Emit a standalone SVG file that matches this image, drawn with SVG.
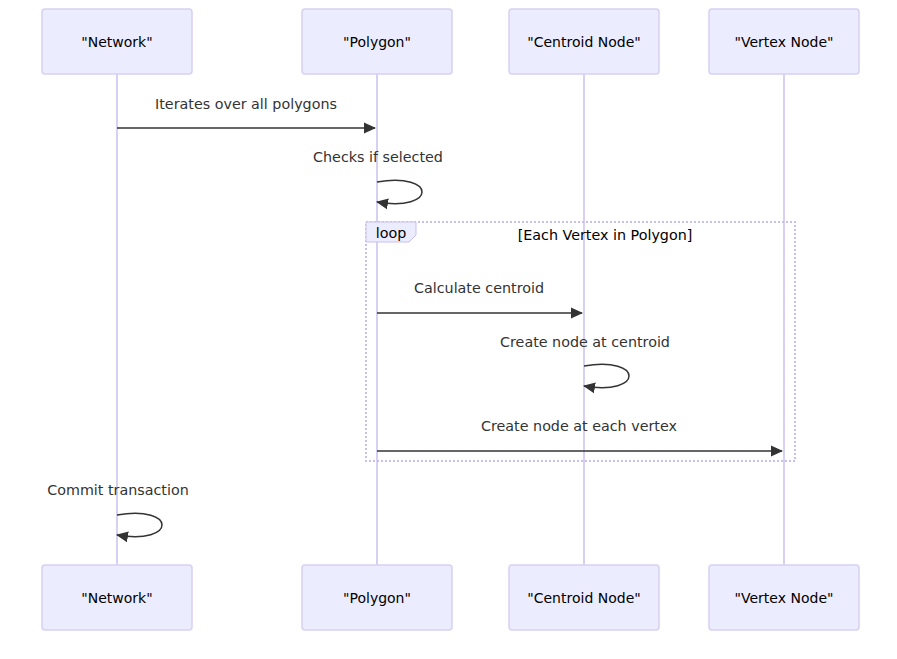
<svg xmlns="http://www.w3.org/2000/svg" width="897" height="659" viewBox="0 0 897 659">
<style>
.actor{fill:#ECECFF;stroke:#D8D0F2;stroke-width:1.5}
.atext{font-family:"DejaVu Sans",sans-serif;font-size:14px;fill:#000;text-anchor:middle;dominant-baseline:central}
.life{stroke:#D8D0F2;stroke-width:2}
.msg{stroke:#333;stroke-width:1.5;fill:none}
.mtext{font-family:"DejaVu Sans",sans-serif;font-size:14.3px;fill:#333;text-anchor:middle;dominant-baseline:central}
.loopbox{fill:none;stroke:#C9BFEF;stroke-width:2;stroke-dasharray:2,2}
.looptab{fill:#ECECFF;stroke:#C9BFEF;stroke-width:1}
.ltext{font-family:"DejaVu Sans",sans-serif;font-size:14.3px;fill:#000;text-anchor:middle;dominant-baseline:central}
</style>
<defs>
<marker id="arrow" viewBox="0 0 12 12" refX="11" refY="6" markerWidth="12" markerHeight="12" markerUnits="userSpaceOnUse" orient="auto">
<path d="M0,0.5 L12,6 L0,11.5 z" fill="#333"/>
</marker>
</defs>
<rect width="897" height="659" fill="#fff"/>
<g id="lifelines">
<line class="life" x1="117" y1="74" x2="117" y2="565"/>
<line class="life" x1="377" y1="74" x2="377" y2="565"/>
<line class="life" x1="584" y1="74" x2="584" y2="565"/>
<line class="life" x1="784" y1="74" x2="784" y2="565"/>
</g>
<g id="actor-network-top"><rect class="actor" x="42" y="9" width="150" height="65" rx="3"/><text class="atext" x="117" y="42">"Network"</text></g>
<g id="actor-polygon-top"><rect class="actor" x="302" y="9" width="150" height="65" rx="3"/><text class="atext" x="377" y="42">"Polygon"</text></g>
<g id="actor-centroid-top"><rect class="actor" x="509" y="9" width="150" height="65" rx="3"/><text class="atext" x="584" y="42">"Centroid Node"</text></g>
<g id="actor-vertex-top"><rect class="actor" x="709" y="9" width="150" height="65" rx="3"/><text class="atext" x="784" y="42">"Vertex Node"</text></g>
<g id="loop">
<rect class="loopbox" x="366" y="222" width="429" height="239"/>
<path class="looptab" d="M366,222 L416,222 L416,235 L409,242 L366,242 Z"/>
<text class="ltext" x="391" y="233">loop</text>
<text class="ltext" x="605" y="235">[Each Vertex in Polygon]</text>
</g>
<g id="connectors">
<text class="mtext" x="246" y="104">Iterates over all polygons</text>
<line class="msg" x1="117" y1="128" x2="375" y2="128" marker-end="url(#arrow)"/>
<text class="mtext" x="378" y="157">Checks if selected</text>
<path class="msg" d="M377,182 C437,172 437,212 377,202" marker-end="url(#arrow)"/>
<text class="mtext" x="479" y="288">Calculate centroid</text>
<line class="msg" x1="377" y1="313" x2="582" y2="313" marker-end="url(#arrow)"/>
<text class="mtext" x="585" y="342">Create node at centroid</text>
<path class="msg" d="M584,366 C644,356 644,396 584,386" marker-end="url(#arrow)"/>
<text class="mtext" x="579" y="426">Create node at each vertex</text>
<line class="msg" x1="377" y1="451" x2="782" y2="451" marker-end="url(#arrow)"/>
<text class="mtext" x="118" y="490">Commit transaction</text>
<path class="msg" d="M117,515 C177,505 177,545 117,535" marker-end="url(#arrow)"/>
</g>
<g id="actor-network-bottom"><rect class="actor" x="42" y="565" width="150" height="65" rx="3"/><text class="atext" x="117" y="598">"Network"</text></g>
<g id="actor-polygon-bottom"><rect class="actor" x="302" y="565" width="150" height="65" rx="3"/><text class="atext" x="377" y="598">"Polygon"</text></g>
<g id="actor-centroid-bottom"><rect class="actor" x="509" y="565" width="150" height="65" rx="3"/><text class="atext" x="584" y="598">"Centroid Node"</text></g>
<g id="actor-vertex-bottom"><rect class="actor" x="709" y="565" width="150" height="65" rx="3"/><text class="atext" x="784" y="598">"Vertex Node"</text></g>
</svg>
